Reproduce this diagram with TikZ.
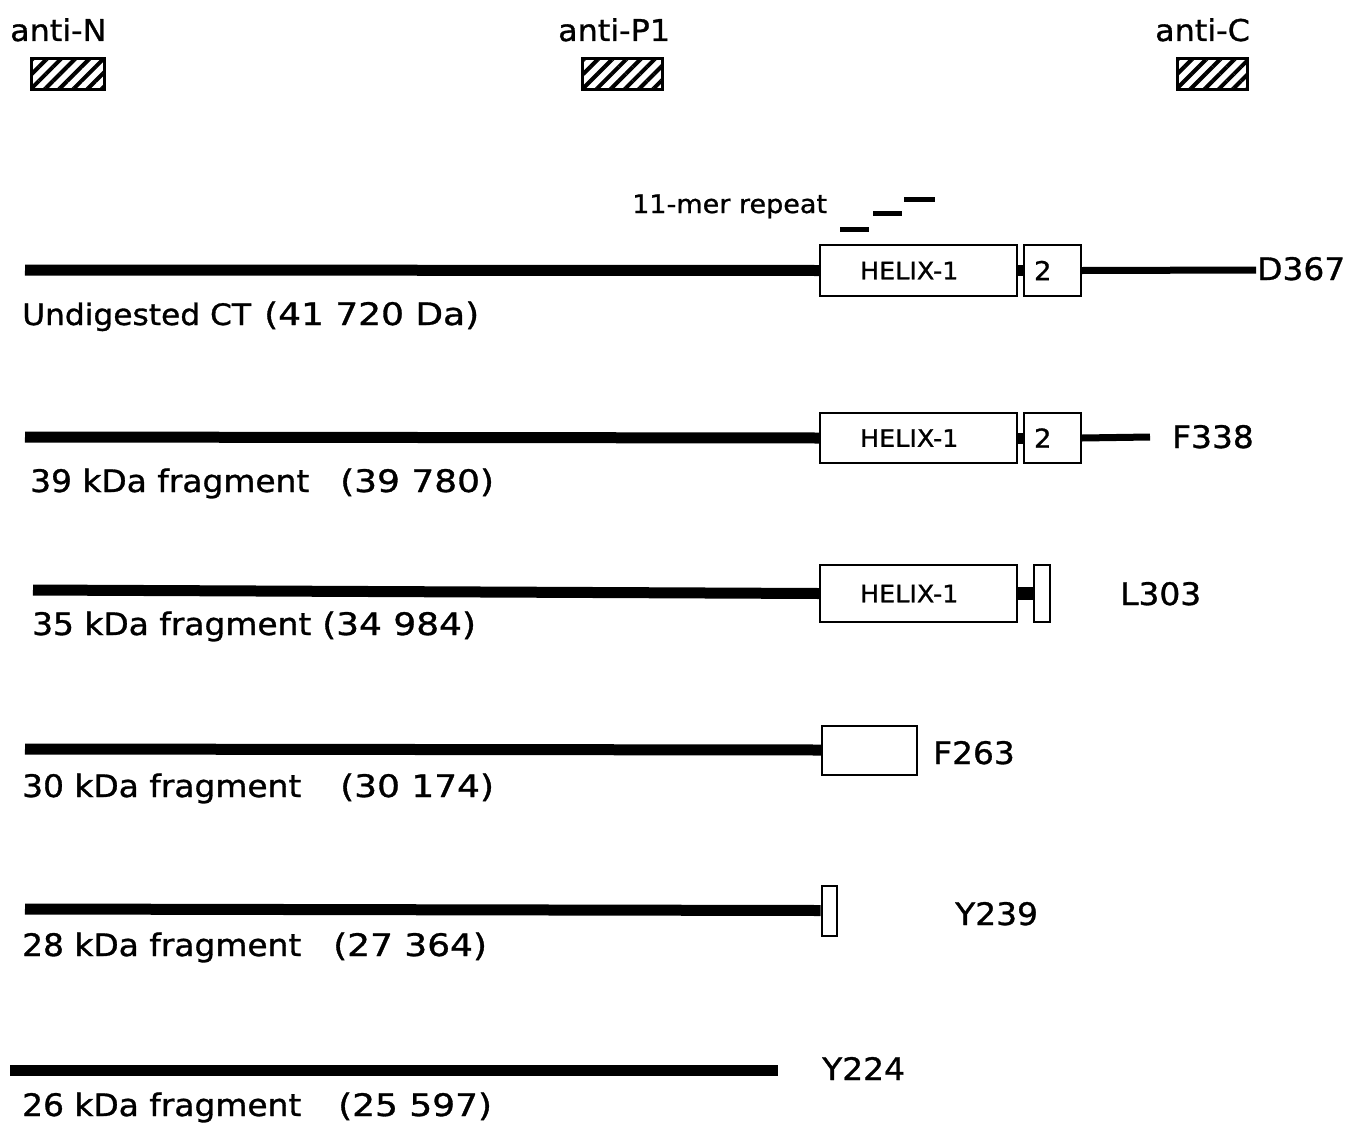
\documentclass[tikz,border=0pt]{standalone}
\usepackage{fontspec}
\setmainfont{DejaVu Sans}[FakeStretch=1.06,FakeBold=1]
\newfontfamily\numfont{DejaVu Sans}[FakeStretch=1.16,FakeBold=1]
\usetikzlibrary{patterns.meta}
\begin{document}
\begin{tikzpicture}[x=1pt,y=-1pt,
  lab/.style={inner sep=0pt, anchor=base west, font=\fontsize{31}{36}\selectfont},
  numlab/.style={inner sep=0pt, anchor=base west, font=\numfont\fontsize{31}{36}\selectfont},
  ablab/.style={inner sep=0pt, anchor=base west, font=\fontsize{30}{34}\selectfont},
  replab/.style={inner sep=0pt, anchor=base west, font=\fontsize{25.5}{30}\selectfont},
  hatchbox/.style={draw, line width=3pt, minimum height=30pt, inner sep=0pt,
    pattern={Lines[angle=45,distance=10pt,line width=4pt]}},
  hbox/.style={draw, line width=2pt, fill=white, inner sep=0pt},
  helix/.style={hbox, minimum width=197pt, text width=157pt, inner xsep=0pt, align=left,
    font=\fontsize{24}{28}\selectfont},
  two/.style={hbox, minimum width=57pt, text width=45pt, align=left,
    font=\fontsize{26}{30}\selectfont},
  bar/.style={line width=11pt},
  thinbar/.style={line width=7pt},
  link/.style={line width=11pt},
  rep/.style={line width=5pt}
]
\useasboundingbox (0,0) rectangle (1351,1124);

% antibody epitopes
\node[ablab] (aN) at (10,41) {anti-N};
\node[ablab] (aP) at (558,41) {anti-P1};
\node[ablab] (aC) at (1155,41) {anti-C};
\node[hatchbox, minimum width=73pt] (hN) at (67.5,74) {};
\node[hatchbox, minimum width=80pt] (hP) at (622,74) {};
\node[hatchbox, minimum width=70pt] (hC) at (1212.5,74) {};

% 11-mer repeat
\node[replab] (rep) at (632,213) {11-mer repeat};
\coordinate (r1a) at (840,229); \coordinate (r1b) at (869,229);
\coordinate (r2a) at (873,213); \coordinate (r2b) at (902,213);
\coordinate (r3a) at (904,199); \coordinate (r3b) at (935,199);
\draw[rep] (r1a) -- (r1b);
\draw[rep] (r2a) -- (r2b);
\draw[rep] (r3a) -- (r3b);

% Row 1: undigested
\coordinate (s1) at (25,270);
\coordinate (e1) at (1256,270);
\node[helix, minimum height=51pt] (h1) at (918.5,270.5) {\hspace*{20pt}HELIX-1};
\node[two, minimum height=51pt] (t1) at (1052.5,270.5) {\hspace*{4pt}2};
\draw[bar] (s1) -- (h1.west);
\draw[link] (h1.east) -- (t1.west);
\draw[thinbar] (t1.east) -- (e1);
\node[lab] (d367) at (1257,280) {D367};
\node[lab, font=\fontsize{29.5}{34}\selectfont] (l1a) at (22,325) {Undigested CT};
\node[numlab] (l1b) at (264,325) {(41 720 Da)};

% Row 2: 39 kDa
\coordinate (s2) at (25,437);
\coordinate (e2) at (1150,437);
\node[helix, minimum height=50pt] (h2) at (918.5,438) {\hspace*{20pt}HELIX-1};
\node[two, minimum height=50pt] (t2) at (1052.5,438) {\hspace*{4pt}2};
\draw[bar] (s2) -- (h2.west);
\draw[link] (h2.east) -- (t2.west);
\draw[thinbar] (t2.east) -- (e2);
\node[lab] (f338) at (1172,448) {F338};
\node[lab] (l2a) at (30,492) {39 kDa fragment};
\node[numlab] (l2b) at (340,492) {(39 780)};

% Row 3: 35 kDa
\coordinate (s3) at (33,590);
\node[helix, minimum height=57pt] (h3) at (918.5,593.5) {\hspace*{20pt}HELIX-1};
\node[hbox, minimum width=16pt, minimum height=57pt] (t3) at (1042,593.5) {};
\draw[bar] (s3) -- (h3.west);
\draw[line width=13pt] (h3.east) -- (t3.west);
\node[lab] (l303) at (1120,605) {L303};
\node[lab] (l3a) at (32,635) {35 kDa fragment};
\node[numlab] (l3b) at (322,635) {(34 984)};

% Row 4: 30 kDa
\coordinate (s4) at (25,749);
\node[hbox, minimum width=95pt, minimum height=49pt] (t4) at (869.5,750) {};
\draw[bar] (s4) -- (t4.west);
\node[lab] (f263) at (933,764) {F263};
\node[lab] (l4a) at (22,797) {30 kDa fragment};
\node[numlab] (l4b) at (340,797) {(30 174)};

% Row 5: 28 kDa
\coordinate (s5) at (25,909);
\node[hbox, minimum width=15pt, minimum height=50pt] (t5) at (829,910.5) {};
\draw[bar] (s5) -- (t5.west);
\node[lab] (y239) at (955,925) {Y239};
\node[lab] (l5a) at (22,956) {28 kDa fragment};
\node[numlab] (l5b) at (333,956) {(27 364)};

% Row 6: 26 kDa
\coordinate (s6) at (10,1070);
\coordinate (e6) at (778,1070);
\draw[bar] (s6) -- (e6);
\node[lab] (y224) at (822,1080) {Y224};
\node[lab] (l6a) at (22,1116) {26 kDa fragment};
\node[numlab] (l6b) at (338,1116) {(25 597)};
\end{tikzpicture}
\end{document}
